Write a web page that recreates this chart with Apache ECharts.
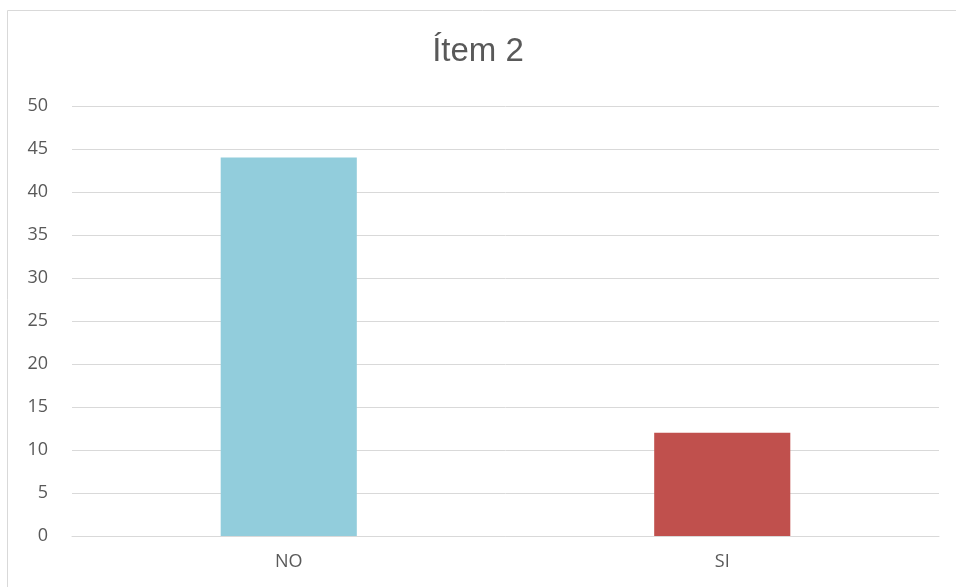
<!DOCTYPE html>
<html><head><meta charset="utf-8">
<script src="https://cdn.jsdelivr.net/npm/echarts@6/dist/echarts.min.js"></script>
<style>html,body{margin:0;padding:0;background:#fff}#c{width:956px;height:587px}</style>
</head><body><div id="c"></div>
<script>
const categories = ["NO", "SI"];
const values = [44, 12];
const barColors = ["#92CDDC", "#C0504D"];
const chart = echarts.init(document.getElementById('c'));
chart.setOption({
  animation: false,
  graphic: [{type:'rect', shape:{x:7.5,y:10.5,width:1000,height:1000}, style:{fill:'none', stroke:'#d9d9d9', lineWidth:1}}],
  title: {text: 'Ítem 2', left: 'center', top: 30, textStyle:{fontFamily:'Liberation Sans', fontSize:33, fontWeight:'normal', color:'#595959'}},
  grid: {left: 72, right: 17, top: 106, bottom: 51},
  xAxis: {type:'category', data: categories, axisLine:{lineStyle:{color:'#d9d9d9'}}, axisTick:{show:false},
    axisLabel:{fontFamily:'Open Sans', fontSize:18, color:'#595959', margin:17}},
  yAxis: {type:'value', min:0, max:50, interval:5, axisLine:{show:false}, axisTick:{show:false},
    splitLine:{lineStyle:{color:'#d9d9d9'}},
    axisLabel:{fontFamily:'Open Sans', fontSize:18, color:'#595959', margin:24}},
  series: [{type:'bar', barWidth:'31.4%', data: values.map((v,i)=>({value:v, itemStyle:{color:barColors[i]}}))}]
});
</script></body></html>
